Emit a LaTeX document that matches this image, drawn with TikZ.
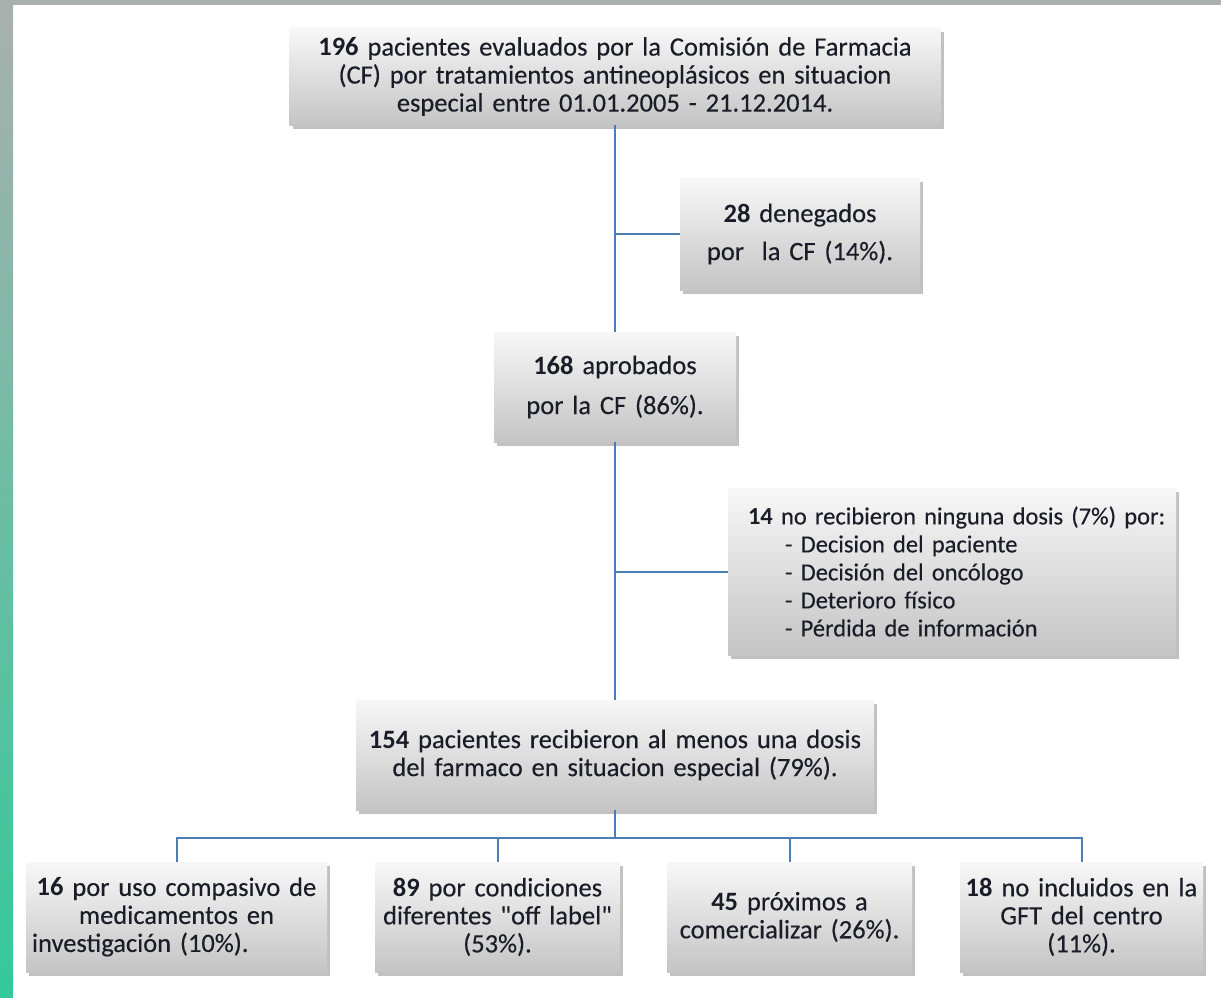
\documentclass[tikz,border=0pt]{standalone}
\usepackage{fontspec}
\setmainfont{Carlito}[UprightFeatures={FakeBold=0.3}]
\usetikzlibrary{shadows, positioning}

\definecolor{linkblue}{HTML}{4A7EBB}
\definecolor{inkdark}{HTML}{1C1C28}
\definecolor{edgegray}{HTML}{A9B0AE}
\definecolor{edgegreen}{HTML}{33C99A}

\tikzset{
  box/.style={top color=white!97!black, bottom color=white!77!black, draw=none,
    align=center, text=inkdark, inner sep=0pt,
    font=\fontsize{26.5}{28}\selectfont,
    drop shadow={shadow xshift=3pt, shadow yshift=-4pt, opacity=0.35, fill=black!70}},
  link/.style={draw=linkblue, line width=2pt},
}

\begin{document}
\begin{tikzpicture}[x=1pt, y=-1pt]
        \useasboundingbox (0,0) rectangle (1221,998);
        \fill[edgegray] (0,0) rectangle (1221,5);
        \shade[top color=edgegray, bottom color=edgegreen] (0,0) rectangle (13,998);

        \node[box, minimum width=651pt, minimum height=97pt, text width=640pt] (top) at (615, 76.5)
            {\textbf{196} pacientes evaluados por la Comisión de Farmacia\\(CF) por tratamientos antineoplásicos en situacion\\especial entre 01.01.2005 - 21.12.2014.};
        \node[box, minimum width=240pt, minimum height=112pt, text width=230pt] (den) at (800, 234)
            {\textbf{28} denegados\\[10pt]por\ \ la CF (14\%).};
        \node[box, minimum width=242pt, minimum height=110pt, text width=230pt] (apr) at (615, 387)
            {\textbf{168} aprobados\\[12pt]por la CF (86\%).};
        \node[box, minimum width=448pt, minimum height=167pt, text width=408pt, align=left,
              font=\fontsize{24.5}{28}\selectfont] (nodosis) at (952, 571.5)
            {\makebox[408pt][l]{\textbf{14} no recibieron ninguna dosis (7\%) por:}\\
             \hspace*{37pt}- Decision del paciente\\
             \hspace*{37pt}- Decisión del oncólogo\\
             \hspace*{37pt}- Deterioro físico\\
             \hspace*{37pt}- Pérdida de información};
        \node[box, minimum width=518pt, minimum height=110pt, text width=505pt] (rec) at (615, 755)
            {\textbf{154} pacientes recibieron al menos una dosis\\del farmaco en situacion especial (79\%).};

        \node[box, minimum width=301pt, minimum height=110pt, text width=289pt] (comp) at (176.5, 917)
            {\textbf{16} por uso compasivo de\\medicamentos en\\\makebox[289pt][l]{investigación (10\%).}};
        \node[box, minimum width=245pt, minimum height=110pt, text width=240pt] (offl) at (497.5, 917)
            {\textbf{89} por condiciones\\diferentes {\addfontfeature{Ligatures=TeXOff}"off label"}\\(53\%).};
        \node[box, minimum width=245pt, minimum height=110pt, text width=240pt] (prox) at (789.5, 917)
            {\textbf{45} próximos a\\comercializar (26\%).};
        \node[box, minimum width=243pt, minimum height=110pt, text width=238pt] (gft) at (1081.5, 917)
            {\textbf{18} no incluidos en la\\GFT del centro\\(11\%).};

        \coordinate (hub) at (615, 838);

        \draw[link] (top) -- (apr)
            (den.west) -- (den.west -| top)
            (apr) -- (rec)
            (nodosis.west) -- (nodosis.west -| apr)
            (rec) -- (hub)
            (comp.north) |- (hub) -| (gft.north)
            (offl.north) -- (offl.north |- hub)
            (prox.north) -- (prox.north |- hub);
    \end{tikzpicture}
\end{document}
